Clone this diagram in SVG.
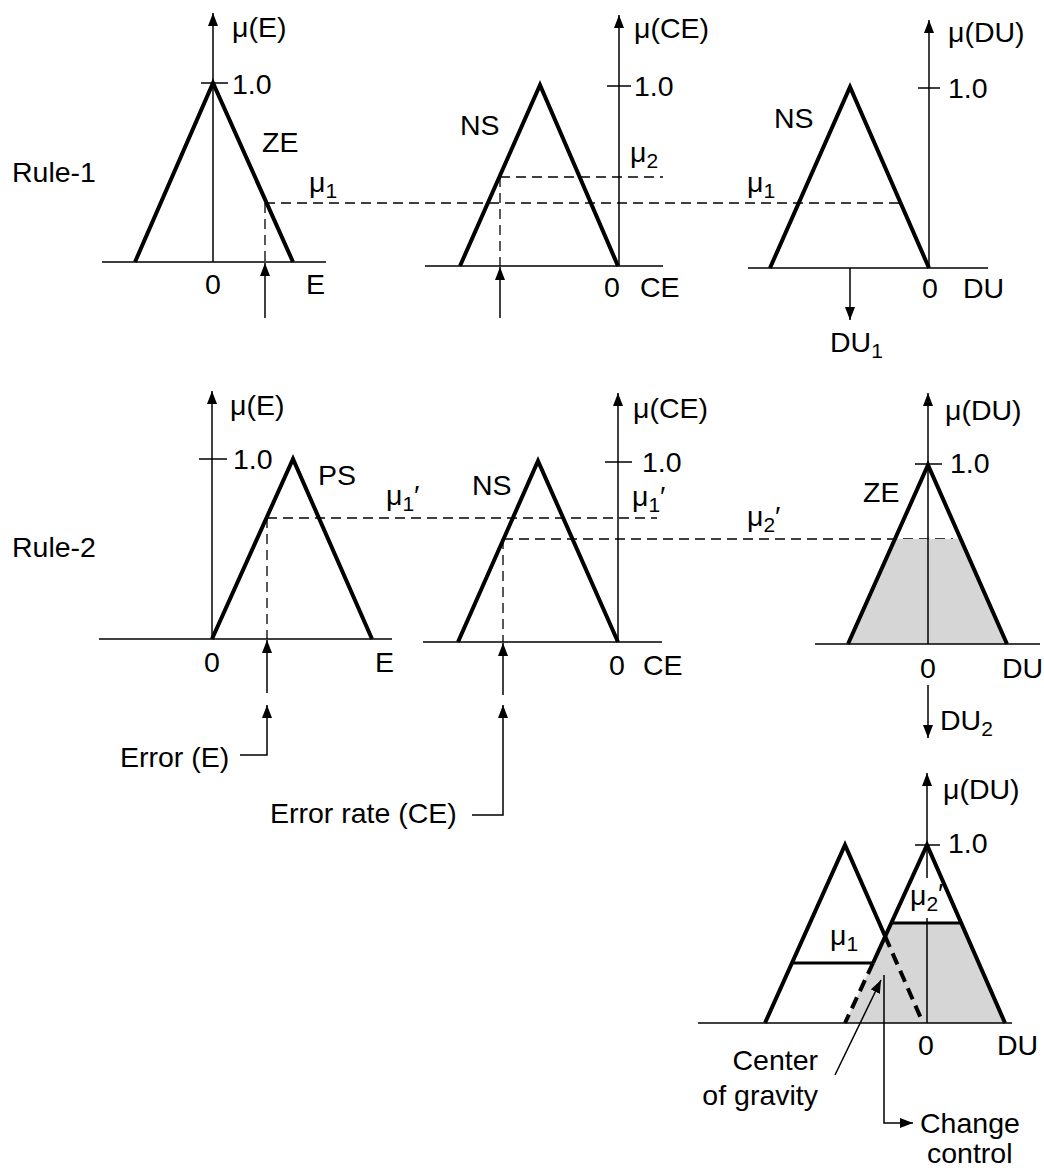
<svg xmlns="http://www.w3.org/2000/svg" width="1044" height="1173" viewBox="0 0 1044 1173">
<defs>
<marker id="ah" viewBox="0 0 13 10" refX="13" refY="5" markerWidth="13" markerHeight="10" markerUnits="userSpaceOnUse" orient="auto">
<path d="M0,0 L13,5 L0,10 z" fill="#000"/>
</marker>
</defs>
<style>
text{font-family:"Liberation Sans",Arial,sans-serif;font-size:28.5px;fill:#000}
.sub{font-size:21px}
.ax{stroke:#000;stroke-width:1.5;fill:none}
.arr{stroke:#000;stroke-width:1.5;fill:none;marker-end:url(#ah)}
.mf{stroke:#000;stroke-width:4;fill:none;stroke-linejoin:miter}
.dash{stroke:#000;stroke-width:1.3;stroke-dasharray:10 6;fill:none}
.tdash{stroke:#000;stroke-width:4;stroke-dasharray:12 7;fill:none}
.cut{stroke:#000;stroke-width:3;fill:none}
.shade{fill:#d6d6d6;stroke:none}
.mid{text-anchor:middle}
.end{text-anchor:end}
</style>
<rect width="1044" height="1173" fill="#fff"/>

<g id="labels">
<text x="12" y="182">Rule-1</text>
<text x="12" y="557">Rule-2</text>
</g>

<g id="connectors">
<line class="dash" x1="265" y1="203" x2="900" y2="203"/>
<line class="dash" x1="500" y1="177" x2="663" y2="177"/>
<line class="dash" x1="267" y1="518" x2="657" y2="518"/>
<line class="dash" x1="503" y1="539" x2="953" y2="539"/>
<line class="arr" x1="265" y1="318" x2="265" y2="263"/>
<line class="arr" x1="500" y1="318" x2="500" y2="267"/>
<line class="arr" x1="850" y1="268" x2="850" y2="320"/>
<line class="arr" x1="267" y1="693" x2="267" y2="640"/>
<polyline class="arr" points="240,755 267,755 267,705"/>
<line class="arr" x1="503" y1="695" x2="503" y2="643"/>
<polyline class="arr" points="472,815 503,815 503,705"/>
<line class="arr" x1="928" y1="685" x2="928" y2="738"/>
</g>

<g id="rule1-E">
<line class="ax" x1="102" y1="262" x2="326" y2="262"/>
<line class="arr" x1="213" y1="262" x2="213" y2="13"/>
<line class="ax" x1="201" y1="83" x2="228" y2="83"/>
<polyline class="mf" points="135,262 213,83 293,262"/>
<line class="dash" x1="265" y1="203" x2="265" y2="262"/>
<text x="232" y="37">μ(E)</text>
<text x="232" y="94">1.0</text>
<text x="262" y="152">ZE</text>
<text x="309" y="192">μ<tspan class="sub" dy="6">1</tspan></text>
<text class="mid" x="213" y="294">0</text>
<text x="306" y="294">E</text>
</g>

<g id="rule1-CE">
<line class="ax" x1="425" y1="266" x2="663" y2="266"/>
<line class="arr" x1="619" y1="266" x2="619" y2="15"/>
<line class="ax" x1="607" y1="86" x2="631" y2="86"/>
<polyline class="mf" points="460,266 540,85 618,266"/>
<line class="dash" x1="500" y1="177" x2="500" y2="266"/>
<text x="634" y="38">μ(CE)</text>
<text x="634" y="96">1.0</text>
<text x="460" y="135">NS</text>
<text x="630" y="162">μ<tspan class="sub" dy="6">2</tspan></text>
<text class="mid" x="612" y="297">0</text>
<text x="640" y="297">CE</text>
</g>

<g id="rule1-DU">
<line class="ax" x1="748" y1="268" x2="988" y2="268"/>
<line class="arr" x1="929" y1="268" x2="929" y2="20"/>
<line class="ax" x1="918" y1="88" x2="940" y2="88"/>
<polyline class="mf" points="770,268 850,87 929,268"/>
<text x="948" y="42">μ(DU)</text>
<text x="948" y="98">1.0</text>
<text x="774" y="128">NS</text>
<text x="747" y="192">μ<tspan class="sub" dy="6">1</tspan></text>
<text class="mid" x="930" y="298">0</text>
<text x="963" y="298">DU</text>
<text x="830" y="352">DU<tspan class="sub" dy="6">1</tspan></text>
</g>

<g id="rule2-E">
<line class="ax" x1="99" y1="639" x2="392" y2="639"/>
<line class="arr" x1="212" y1="639" x2="212" y2="391"/>
<line class="ax" x1="199" y1="459" x2="227" y2="459"/>
<polyline class="mf" points="212,639 293,459 372,639"/>
<line class="dash" x1="267" y1="518" x2="267" y2="639"/>
<text x="230" y="415">μ(E)</text>
<text x="233" y="469">1.0</text>
<text x="318" y="485">PS</text>
<text x="386" y="505">μ<tspan class="sub" dy="6">1</tspan><tspan dy="-6">′</tspan></text>
<text class="mid" x="212" y="672">0</text>
<text x="375" y="672">E</text>
<text x="120" y="767">Error (E)</text>
<text x="270" y="823">Error rate (CE)</text>
</g>

<g id="rule2-CE">
<line class="ax" x1="423" y1="642" x2="662" y2="642"/>
<line class="arr" x1="618" y1="642" x2="618" y2="393"/>
<line class="ax" x1="605" y1="462" x2="632" y2="462"/>
<polyline class="mf" points="458,642 538,461 618,642"/>
<line class="dash" x1="503" y1="539" x2="503" y2="642"/>
<text x="633" y="418">μ(CE)</text>
<text x="642" y="472">1.0</text>
<text x="472" y="495">NS</text>
<text x="632" y="506">μ<tspan class="sub" dy="6">1</tspan><tspan dy="-6">′</tspan></text>
<text class="mid" x="617" y="675">0</text>
<text x="643" y="675">CE</text>
</g>

<g id="rule2-DU">
<polygon class="shade" points="894,539 963,539 1007,644 848,644"/>
<line class="ax" x1="815" y1="644" x2="1040" y2="644"/>
<line class="arr" x1="928" y1="644" x2="928" y2="393"/>
<line class="ax" x1="915" y1="464" x2="942" y2="464"/>
<polyline class="mf" points="848,644 928,465 1007,644"/>
<text x="945" y="420">μ(DU)</text>
<text x="950" y="473">1.0</text>
<text x="863" y="502">ZE</text>
<text x="747" y="526">μ<tspan class="sub" dy="6">2</tspan><tspan dy="-6">′</tspan></text>
<text class="mid" x="928" y="678">0</text>
<text x="1002" y="678">DU</text>
<text x="940" y="730">DU<tspan class="sub" dy="6">2</tspan></text>
</g>

<g id="result">
<polygon class="shade" points="891,923 961,923 1005,1023 845,1023"/>
<line class="ax" x1="698" y1="1023" x2="1012" y2="1023"/>
<line class="arr" x1="927" y1="878" x2="927" y2="773"/>
<line class="ax" x1="927" y1="918" x2="927" y2="1023"/>
<line class="ax" x1="915" y1="845" x2="940" y2="845"/>
<polyline class="mf" points="765,1023 845,845 885,936"/>
<line class="tdash" x1="885" y1="936" x2="923" y2="1023"/>
<polyline class="mf" points="873,963 927,845 1005,1023"/>
<line class="tdash" x1="873" y1="963" x2="845" y2="1023"/>
<line class="cut" x1="792" y1="963" x2="873" y2="963"/>
<line class="cut" x1="891" y1="923" x2="961" y2="923"/>
<line class="arr" x1="835" y1="1075" x2="881" y2="980"/>
<polyline class="arr" points="884,975 884,1123 913,1123"/>
<text x="943" y="799">μ(DU)</text>
<text x="948" y="853">1.0</text>
<text x="910" y="905">μ<tspan class="sub" dy="6">2</tspan><tspan dy="-8">′</tspan></text>
<text x="830" y="945">μ<tspan class="sub" dy="6">1</tspan></text>
<text class="mid" x="926" y="1055">0</text>
<text x="997" y="1055">DU</text>
<text class="end" x="818" y="1070">Center</text>
<text class="end" x="818" y="1105">of gravity</text>
<text x="920" y="1133">Change</text>
<text x="927" y="1163">control</text>
</g>
</svg>
